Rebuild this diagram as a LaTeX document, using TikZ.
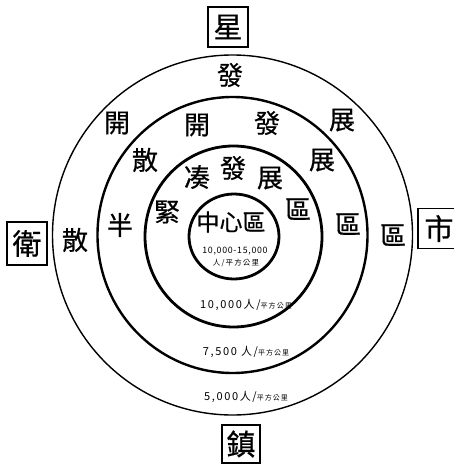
\documentclass[tikz,border=0pt]{standalone}
\usepackage{fontspec}
\newfontfamily\cjk[FakeBold=0.6]{Noto Sans CJK TC}
\newfontfamily\cjks[LetterSpace=15]{Noto Sans CJK TC}
\newfontfamily\cjkt[LetterSpace=8]{Noto Sans CJK TC}
\begin{document}
\begin{tikzpicture}[x=1pt,y=-1pt,
  ch/.style={font=\cjk\fontsize{26}{26}\selectfont, inner sep=0pt},
  chc/.style={font=\cjk\fontsize{23}{23}\selectfont, inner sep=0pt},
  boxch/.style={draw, line width=1.8pt, font=\cjk\fontsize{29}{29}\selectfont, inner sep=0pt, minimum width=40pt, minimum height=40pt},
  dens/.style={font=\cjks\fontsize{11}{11}\selectfont, inner sep=0pt},
]
\useasboundingbox (0,0) rectangle (454,465);
\fill[white] (0,0) rectangle (454,465);
% rings
\draw[line width=1.4pt] (232.5,235) circle [radius=180];
\draw[line width=2.4pt] (232.5,235) ellipse [x radius=135, y radius=138];
\draw[line width=2.8pt] (233.5,236.5) ellipse [x radius=88.5, y radius=90.5];
\draw[line width=2.8pt] (234,236.5) ellipse [x radius=45, y radius=42.5];
% boxed labels
\node[boxch] (xing) at (228,27) {星};
\node[boxch, minimum height=43pt] (wei) at (27,243.5) {衛};
\node[boxch, minimum width=42pt] (shi) at (439,228.5) {市};
\node[boxch, minimum width=38pt, minimum height=38pt] (zhen) at (241,444) {鎮};
% outer ring
\node[ch] (o1) at (230,75) {發};
\node[ch] (o2) at (117,123) {開};
\node[ch] (o3) at (342,120) {展};
\node[ch] (o4) at (75,240) {散};
\node[ch] (o5) at (393,235) {區};
% second ring
\node[ch] (s1) at (197,125) {開};
\node[ch] (s2) at (267,123) {發};
\node[ch] (s3) at (322,160) {展};
\node[ch] (s4) at (145,160) {散};
\node[ch] (s5) at (120,225) {半};
\node[ch] (s6) at (348,224) {區};
% third ring
\node[ch] (t1) at (197,177) {凑};
\node[ch] (t2) at (233,168) {發};
\node[ch] (t3) at (270,178) {展};
\node[ch] (t4) at (167,212) {緊};
\node[ch] (t5) at (298,209) {區};
% centre
\node[chc] (c1) at (231,222) {中心區};
\node[inner sep=0pt, font=\cjkt\fontsize{8.8}{8.8}\selectfont] (c2) at (235,251) {10,000-15,000};
\node[dens, font=\cjks\fontsize{7.5}{7.5}\selectfont] (c3) at (236,263) {人/平方公里};
% density labels
\node[dens] (d1) at (246,305) {10,000人/{\fontsize{7}{7}\selectfont 平方公里}};
\node[dens] (d2) at (246,352) {7,500 人/{\fontsize{7}{7}\selectfont 平方公里}};
\node[dens] (d3) at (246,397) {5,000人/{\fontsize{7}{7}\selectfont 平方公里}};
\end{tikzpicture}
\end{document}
